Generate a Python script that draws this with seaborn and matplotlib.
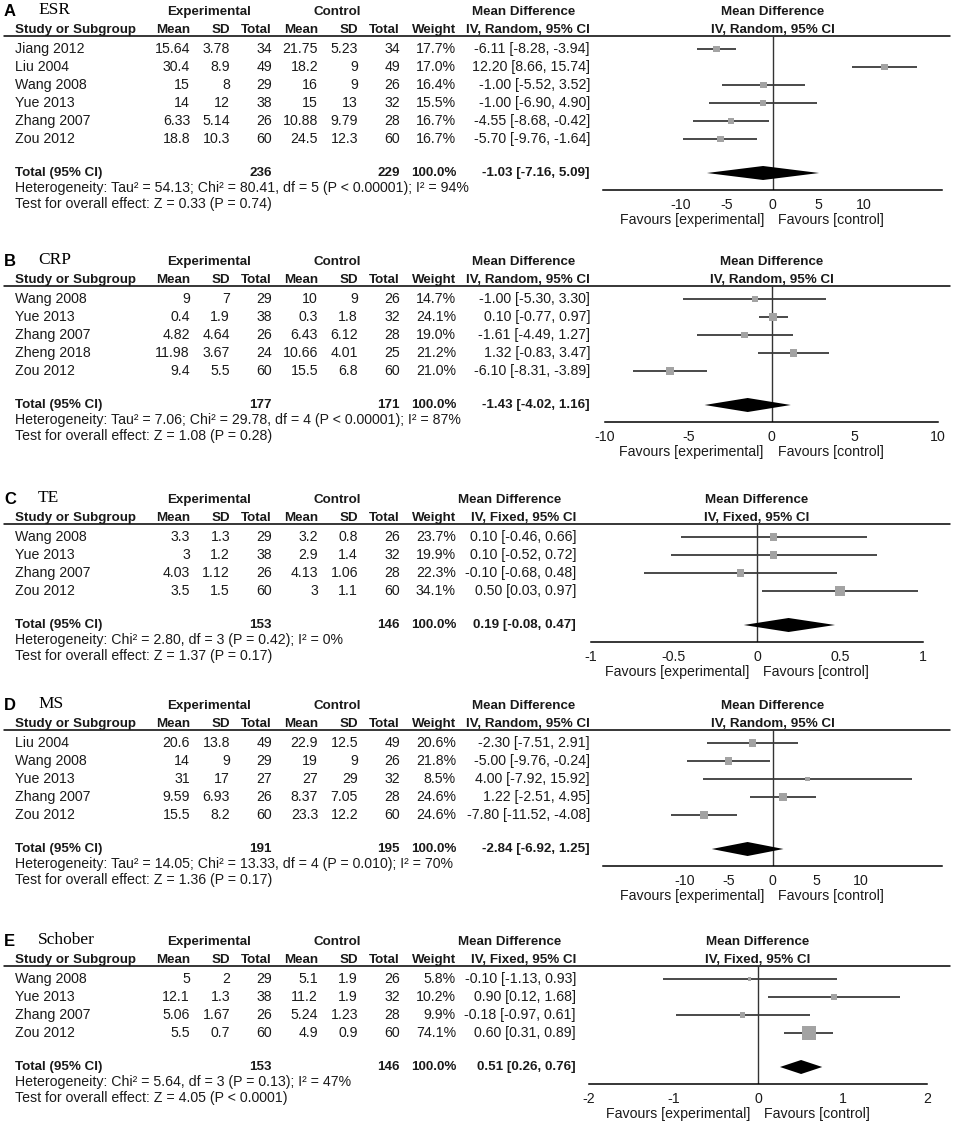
import numpy as np
import pandas as pd
import seaborn as sns
import matplotlib.pyplot as plt

# ---------------- A: ESR (random effects) ----------------
esr_studies = ['Jiang 2012', 'Liu 2004', 'Wang 2008', 'Yue 2013', 'Zhang 2007', 'Zou 2012']
esr_exp_mean = [15.64, 30.4, 15, 14, 6.33, 18.8]
esr_exp_sd = [3.78, 8.9, 8, 12, 5.14, 10.3]
esr_exp_n = [34, 49, 29, 38, 26, 60]
esr_ctl_mean = [21.75, 18.2, 16, 15, 10.88, 24.5]
esr_ctl_sd = [5.23, 9, 9, 13, 9.79, 12.3]
esr_ctl_n = [34, 49, 26, 32, 28, 60]
esr_weight = [17.7, 17.0, 16.4, 15.5, 16.7, 16.7]
esr_md = [-6.11, 12.20, -1.00, -1.00, -4.55, -5.70]
esr_lo = [-8.28, 8.66, -5.52, -6.90, -8.68, -9.76]
esr_hi = [-3.94, 15.74, 3.52, 4.90, -0.42, -1.64]
esr_total = [236, 229, -1.03, -7.16, 5.09]
esr_het = 'Heterogeneity: Tau\u00b2 = 54.13; Chi\u00b2 = 80.41, df = 5 (P < 0.00001); I\u00b2 = 94%'
esr_test = 'Test for overall effect: Z = 0.33 (P = 0.74)'

# ---------------- B: CRP (random effects) ----------------
crp_studies = ['Wang 2008', 'Yue 2013', 'Zhang 2007', 'Zheng 2018', 'Zou 2012']
crp_exp_mean = [9, 0.4, 4.82, 11.98, 9.4]
crp_exp_sd = [7, 1.9, 4.64, 3.67, 5.5]
crp_exp_n = [29, 38, 26, 24, 60]
crp_ctl_mean = [10, 0.3, 6.43, 10.66, 15.5]
crp_ctl_sd = [9, 1.8, 6.12, 4.01, 6.8]
crp_ctl_n = [26, 32, 28, 25, 60]
crp_weight = [14.7, 24.1, 19.0, 21.2, 21.0]
crp_md = [-1.00, 0.10, -1.61, 1.32, -6.10]
crp_lo = [-5.30, -0.77, -4.49, -0.83, -8.31]
crp_hi = [3.30, 0.97, 1.27, 3.47, -3.89]
crp_total = [177, 171, -1.43, -4.02, 1.16]
crp_het = 'Heterogeneity: Tau\u00b2 = 7.06; Chi\u00b2 = 29.78, df = 4 (P < 0.00001); I\u00b2 = 87%'
crp_test = 'Test for overall effect: Z = 1.08 (P = 0.28)'

# ---------------- C: TE (fixed effect) ----------------
te_studies = ['Wang 2008', 'Yue 2013', 'Zhang 2007', 'Zou 2012']
te_exp_mean = [3.3, 3, 4.03, 3.5]
te_exp_sd = [1.3, 1.2, 1.12, 1.5]
te_exp_n = [29, 38, 26, 60]
te_ctl_mean = [3.2, 2.9, 4.13, 3]
te_ctl_sd = [0.8, 1.4, 1.06, 1.1]
te_ctl_n = [26, 32, 28, 60]
te_weight = [23.7, 19.9, 22.3, 34.1]
te_md = [0.10, 0.10, -0.10, 0.50]
te_lo = [-0.46, -0.52, -0.68, 0.03]
te_hi = [0.66, 0.72, 0.48, 0.97]
te_total = [153, 146, 0.19, -0.08, 0.47]
te_het = 'Heterogeneity: Chi\u00b2 = 2.80, df = 3 (P = 0.42); I\u00b2 = 0%'
te_test = 'Test for overall effect: Z = 1.37 (P = 0.17)'

# ---------------- D: MS (random effects) ----------------
ms_studies = ['Liu 2004', 'Wang 2008', 'Yue 2013', 'Zhang 2007', 'Zou 2012']
ms_exp_mean = [20.6, 14, 31, 9.59, 15.5]
ms_exp_sd = [13.8, 9, 17, 6.93, 8.2]
ms_exp_n = [49, 29, 27, 26, 60]
ms_ctl_mean = [22.9, 19, 27, 8.37, 23.3]
ms_ctl_sd = [12.5, 9, 29, 7.05, 12.2]
ms_ctl_n = [49, 26, 32, 28, 60]
ms_weight = [20.6, 21.8, 8.5, 24.6, 24.6]
ms_md = [-2.30, -5.00, 4.00, 1.22, -7.80]
ms_lo = [-7.51, -9.76, -7.92, -2.51, -11.52]
ms_hi = [2.91, -0.24, 15.92, 4.95, -4.08]
ms_total = [191, 195, -2.84, -6.92, 1.25]
ms_het = 'Heterogeneity: Tau\u00b2 = 14.05; Chi\u00b2 = 13.33, df = 4 (P = 0.010); I\u00b2 = 70%'
ms_test = 'Test for overall effect: Z = 1.36 (P = 0.17)'

# ---------------- E: Schober (fixed effect) ----------------
sch_studies = ['Wang 2008', 'Yue 2013', 'Zhang 2007', 'Zou 2012']
sch_exp_mean = [5, 12.1, 5.06, 5.5]
sch_exp_sd = [2, 1.3, 1.67, 0.7]
sch_exp_n = [29, 38, 26, 60]
sch_ctl_mean = [5.1, 11.2, 5.24, 4.9]
sch_ctl_sd = [1.9, 1.9, 1.23, 0.9]
sch_ctl_n = [26, 32, 28, 60]
sch_weight = [5.8, 10.2, 9.9, 74.1]
sch_md = [-0.10, 0.90, -0.18, 0.60]
sch_lo = [-1.13, 0.12, -0.97, 0.31]
sch_hi = [0.93, 1.68, 0.61, 0.89]
sch_total = [153, 146, 0.51, 0.26, 0.76]
sch_het = 'Heterogeneity: Chi\u00b2 = 5.64, df = 3 (P = 0.13); I\u00b2 = 47%'
sch_test = 'Test for overall effect: Z = 4.05 (P < 0.0001)'

panels = [
    dict(letter='A', name='ESR', model='Random', studies=esr_studies,
         cols=[esr_exp_mean, esr_exp_sd, esr_exp_n, esr_ctl_mean, esr_ctl_sd, esr_ctl_n],
         weight=esr_weight, md=esr_md, lo=esr_lo, hi=esr_hi, total=esr_total,
         het=esr_het, test=esr_test,
         y0=12, xlim=(-18.5, 18.5), px=(603, 942), ticks=[-10, -5, 0, 5, 10]),
    dict(letter='B', name='CRP', model='Random', studies=crp_studies,
         cols=[crp_exp_mean, crp_exp_sd, crp_exp_n, crp_ctl_mean, crp_ctl_sd, crp_ctl_n],
         weight=crp_weight, md=crp_md, lo=crp_lo, hi=crp_hi, total=crp_total,
         het=crp_het, test=crp_test,
         y0=262, xlim=(-10, 10), px=(605, 938), ticks=[-10, -5, 0, 5, 10]),
    dict(letter='C', name='TE', model='Fixed', studies=te_studies,
         cols=[te_exp_mean, te_exp_sd, te_exp_n, te_ctl_mean, te_ctl_sd, te_ctl_n],
         weight=te_weight, md=te_md, lo=te_lo, hi=te_hi, total=te_total,
         het=te_het, test=te_test,
         y0=500, xlim=(-1, 1), px=(591, 923), ticks=[-1, -0.5, 0, 0.5, 1]),
    dict(letter='D', name='MS', model='Random', studies=ms_studies,
         cols=[ms_exp_mean, ms_exp_sd, ms_exp_n, ms_ctl_mean, ms_ctl_sd, ms_ctl_n],
         weight=ms_weight, md=ms_md, lo=ms_lo, hi=ms_hi, total=ms_total,
         het=ms_het, test=ms_test,
         y0=706, xlim=(-19.3, 19.3), px=(603, 942), ticks=[-10, -5, 0, 5, 10]),
    dict(letter='E', name='Schober', model='Fixed', studies=sch_studies,
         cols=[sch_exp_mean, sch_exp_sd, sch_exp_n, sch_ctl_mean, sch_ctl_sd, sch_ctl_n],
         weight=sch_weight, md=sch_md, lo=sch_lo, hi=sch_hi, total=sch_total,
         het=sch_het, test=sch_test,
         y0=942, xlim=(-2, 2), px=(589, 927), ticks=[-2, -1, 0, 1, 2]),
]

sns.set_style('white')
plt.rcParams['font.family'] = ['Liberation Sans', 'DejaVu Sans']
FS = 10.2   # regular text
FSB = 9.6   # bold headers
W, H = 957, 1124
fig = plt.figure(figsize=(W / 100, H / 100), dpi=100)
bg = fig.add_axes([0, 0, 1, 1])
bg.set_xlim(0, W)
bg.set_ylim(H, 0)
bg.axis('off')

col_right = [190, 230, 272, 318, 358, 400]
TXT = '#1a1a1a'


def t(x, y, s, ha='left', bold=False, **kw):
    size = kw.pop('fontsize', FSB if bold else FS)
    bg.text(x, y, s, ha=ha, va='center', fontsize=size,
            fontweight='bold' if bold else 'normal', color=kw.pop('color', TXT), **kw)


for p in panels:
    y0 = p['y0']
    n = len(p['studies'])
    ci_right = 590 if p['model'] == 'Random' else 576
    zero_px = (p['px'][0] + p['px'][1]) / 2
    underline = y0 + 24
    rows = [y0 + 37 + 18 * i for i in range(n)]
    y_tot = rows[-1] + 34
    y_axis = y_tot + 17

    # panel label and title
    t(4, y0 - 1, p['letter'], bold=True, fontsize=12, color='black')
    t(38, y0 - 2, p['name'], fontsize=12.5, family='Liberation Serif', color='black')

    # headers
    t(209, y0, 'Experimental', ha='center', bold=True)
    t(337, y0, 'Control', ha='center', bold=True)
    t(ci_right - 66, y0, 'Mean Difference', ha='center', bold=True)
    t(zero_px, y0, 'Mean Difference', ha='center', bold=True)
    hdr2 = ['Mean', 'SD', 'Total', 'Mean', 'SD', 'Total']
    t(15, y0 + 18, 'Study or Subgroup', bold=True)
    for x, h in zip(col_right, hdr2):
        t(x, y0 + 18, h, ha='right', bold=True)
    t(456, y0 + 18, 'Weight', ha='right', bold=True)
    iv = 'IV, %s, 95%% CI' % p['model']
    t(ci_right, y0 + 18, iv, ha='right', bold=True)
    t(zero_px, y0 + 18, iv, ha='center', bold=True)
    bg.plot([4, 950], [underline, underline], color='black', lw=1.1)

    # study rows
    for i, yy in enumerate(rows):
        t(15, yy, p['studies'][i])
        for x, col in zip(col_right, p['cols']):
            t(x, yy, str(col[i]), ha='right')
        t(456, yy, '%.1f%%' % p['weight'][i], ha='right')
        t(ci_right, yy, '%.2f [%.2f, %.2f]' % (p['md'][i], p['lo'][i], p['hi'][i]), ha='right')

    # total rows
    tot = p['total']
    t(15, y_tot, 'Total (95% CI)', bold=True)
    t(272, y_tot, str(tot[0]), ha='right', bold=True)
    t(400, y_tot, str(tot[1]), ha='right', bold=True)
    t(456, y_tot, '100.0%', ha='right', bold=True)
    t(ci_right, y_tot, '%.2f [%.2f, %.2f]' % (tot[2], tot[3], tot[4]), ha='right', bold=True)
    t(15, y_tot + 15, p['het'])
    t(15, y_tot + 31, p['test'])

    # forest plot axes in pixel rows
    ax = fig.add_axes([p['px'][0] / W, 1 - y_axis / H,
                       (p['px'][1] - p['px'][0]) / W, (y_axis - underline) / H])
    ax.patch.set_alpha(0)
    ax.set_xlim(*p['xlim'])
    ax.set_ylim(y_axis, underline)
    df = pd.DataFrame({'md': p['md'], 'lo': p['lo'], 'hi': p['hi'],
                       'weight': p['weight'], 'row': rows})
    ax.axvline(0, color='#333333', lw=1, zorder=1)
    ax.hlines(df['row'], df['lo'], df['hi'], color='#3a3a3a', lw=1.3, zorder=2)
    sns.scatterplot(data=df, x='md', y='row', size='weight', size_norm=(0, 100),
                    sizes=(0, 133), marker='s', color='#a3a3a3', edgecolor='none',
                    legend=False, ax=ax, zorder=3)
    ax.fill([tot[3], tot[2], tot[4], tot[2]], [y_tot, y_tot - 7, y_tot, y_tot + 7],
            color='black', lw=0, zorder=4)
    ax.set_xticks(p['ticks'])
    ax.set_xticklabels(['%g' % v for v in p['ticks']], fontsize=FS, color=TXT)
    ax.set_yticks([])
    ax.set_xlabel('')
    ax.set_ylabel('')
    for s in ['top', 'left', 'right']:
        ax.spines[s].set_visible(False)
    ax.spines['bottom'].set_color('black')
    ax.spines['bottom'].set_linewidth(1.1)
    ax.tick_params(axis='x', direction='inout', length=7, width=1.1, pad=2, color='black')

    t(zero_px - 8, y_axis + 30, 'Favours [experimental]', ha='right')
    t(zero_px + 6, y_axis + 30, 'Favours [control]', ha='left')

fig.savefig('out.png', dpi=100)
